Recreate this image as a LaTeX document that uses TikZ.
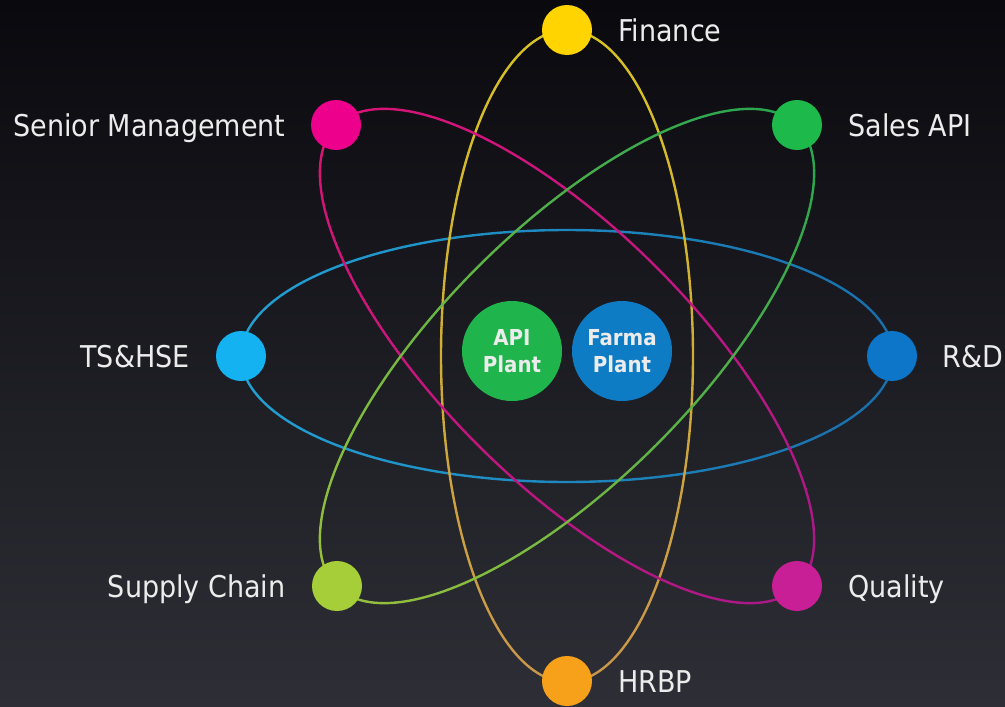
\documentclass[tikz,border=0pt]{standalone}
\usepackage{fontspec}
\setmainfont{DejaVu Sans Condensed}
\usetikzlibrary{calc}
\definecolor{bgtop}{RGB}{9,9,14}
\definecolor{bgbot}{RGB}{46,46,54}
\definecolor{cfin}{RGB}{255,212,0}
\definecolor{csen}{RGB}{236,0,140}
\definecolor{csal}{RGB}{30,185,75}
\definecolor{cts}{RGB}{20,178,240}
\definecolor{crd}{RGB}{14,118,200}
\definecolor{csup}{RGB}{166,206,57}
\definecolor{cqua}{RGB}{200,30,150}
\definecolor{chr}{RGB}{247,160,26}
\definecolor{capi}{RGB}{31,180,76}
\definecolor{cfar}{RGB}{14,124,197}
\definecolor{eYt}{RGB}{215,195,35}
\definecolor{eYb}{RGB}{200,150,75}
\definecolor{eHl}{RGB}{35,160,210}
\definecolor{eHr}{RGB}{25,110,170}
\definecolor{eMs}{RGB}{215,20,120}
\definecolor{eMq}{RGB}{170,25,135}
\definecolor{eGs}{RGB}{40,165,80}
\definecolor{eGl}{RGB}{150,192,60}
\definecolor{labtxt}{RGB}{236,236,236}
\tikzset{
  dot/.style={circle,minimum size=50pt,inner sep=0pt,draw=none},
  plant/.style={circle,minimum size=100pt,inner sep=0pt,draw=none,text=labtxt,align=center,
    font=\bfseries\fontsize{22}{27}\selectfont},
  lab/.style={text=labtxt,inner sep=0pt,font=\fontsize{30}{36}\selectfont},
  orbit/.style={line width=2.4pt,line cap=round}
}
\newcommand\gradorbit[3]{%
  \foreach \t in {0,5,...,355}{%
    \pgfmathtruncatemacro\p{50+50*cos(\t+2.5)}%
    \draw[orbit,color=#2!\p!#3,rotate around={#1:(567,356)}]
      (567,356) ++(\t:326 and 126) arc[start angle=\t,end angle=\t+5,x radius=326,y radius=126];
  }%
}
\begin{document}
\begin{tikzpicture}[x=1pt,y=-1pt]
\shade[top color=bgtop,bottom color=bgbot] (0,0) rectangle (1005,707);
\useasboundingbox (0,0) rectangle (1005,707);
% orbits
\gradorbit{0}{eHr}{eHl}
\gradorbit{90}{eYt}{eYb}
\gradorbit{-45}{eMq}{eMs}
\gradorbit{45}{eGs}{eGl}
% dots
\node[dot,fill=cfin] (fin) at (567,30) {};
\node[dot,fill=csen] (sen) at (336,125) {};
\node[dot,fill=csal] (sal) at (797,125) {};
\node[dot,fill=cts] (ts) at (241,356) {};
\node[dot,fill=crd] (rd) at (892,356) {};
\node[dot,fill=csup] (sup) at (337,586) {};
\node[dot,fill=cqua] (qua) at (797,586) {};
\node[dot,fill=chr] (hr) at (567,681) {};
% plants
\node[plant,fill=capi] (api) at (512,351) {API\\Plant};
\node[plant,fill=cfar] (far) at (622,351) {Farma\\Plant};
% labels
\node[lab,anchor=base west] (lfin) at ($(fin.east)+(26,11)$) {Finance};
\node[lab,anchor=base west] (lsal) at ($(sal.east)+(26,11)$) {Sales API};
\node[lab,anchor=base west] (lrd) at ($(rd.east)+(25,11)$) {R\&D};
\node[lab,anchor=base west] (lqua) at ($(qua.east)+(26,11)$) {Quality};
\node[lab,anchor=base west] (lhr) at ($(hr.east)+(26,11)$) {HRBP};
\node[lab,anchor=base east] (lsen) at ($(sen.west)+(-25,11)$) {Senior Management};
\node[lab,anchor=base east] (lts) at ($(ts.west)+(-26,11)$) {TS\&HSE};
\node[lab,anchor=base east] (lsup) at ($(sup.west)+(-26,11)$) {Supply Chain};
\end{tikzpicture}
\end{document}
